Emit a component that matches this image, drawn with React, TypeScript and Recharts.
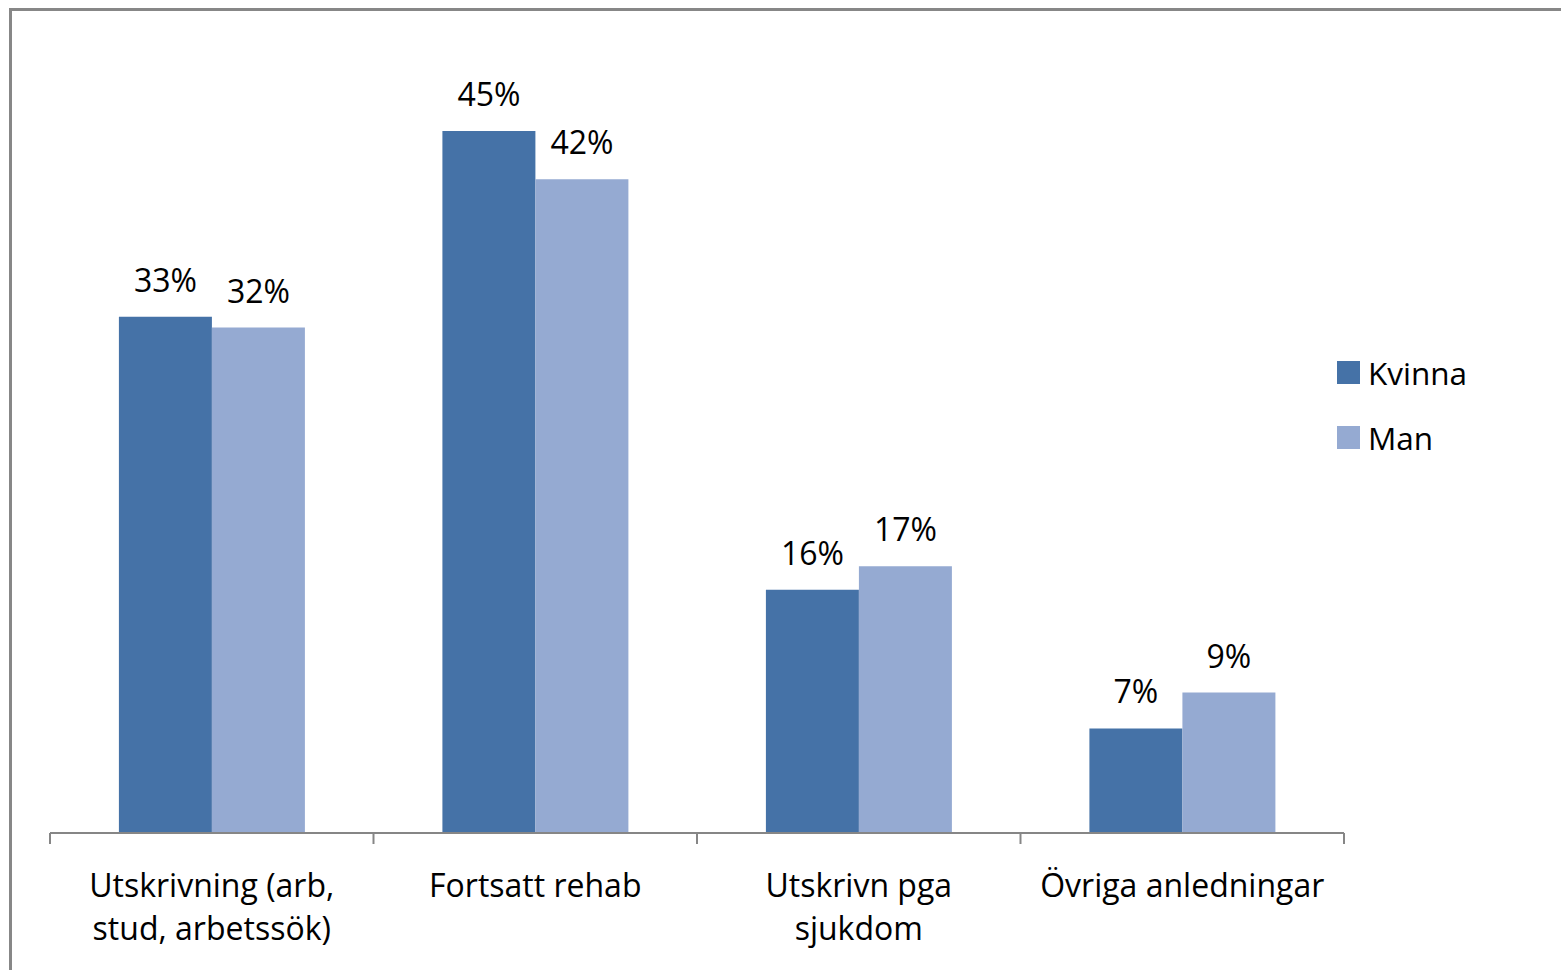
import { BarChart, Bar, XAxis, YAxis, Legend, LabelList } from 'recharts'

const categories = [
  'Utskrivning (arb,\nstud, arbetssök)',
  'Fortsatt rehab',
  'Utskrivn pga\nsjukdom',
  'Övriga anledningar',
]
const kvinna = [33.1, 45.0, 15.6, 6.7]
const man = [32.4, 41.9, 17.1, 9.0]

const seriesNames = ['Kvinna', 'Man']
const seriesColors = ['#4572A7', '#95AAD2']

const data = categories.map((c, i) => ({ category: c, Kvinna: kvinna[i], Man: man[i] }))

const FONT = '"Open Sans", sans-serif'
const W = 1561
const H = 970
const PLOT_LEFT = 50
const PLOT_RIGHT = 1344
const BAND = (PLOT_RIGHT - PLOT_LEFT) / categories.length

function CategoryTick(props: any) {
  const { x, y, payload, index } = props
  const lines = String(payload.value).split('\n')
  return (
    <g>
      <line x1={x - BAND / 2} y1={y} x2={x - BAND / 2} y2={y + 11} stroke="#868686" strokeWidth={2} />
      {index === categories.length - 1 && (
        <line x1={x + BAND / 2} y1={y} x2={x + BAND / 2} y2={y + 11} stroke="#868686" strokeWidth={2} />
      )}
      {lines.map((l, i) => (
        <text key={i} x={x} y={y + 64 + i * 43} textAnchor="middle" fontSize={32} fontFamily={FONT} fill="#000">
          {l}
        </text>
      ))}
    </g>
  )
}

function LegendBox() {
  return (
    <div style={{ width: 200, fontFamily: FONT, fontSize: 31.5, color: '#000', whiteSpace: 'nowrap' }}>
      {seriesNames.map((n, i) => (
        <div key={n} style={{ display: 'flex', alignItems: 'center', height: 23, marginBottom: 42 }}>
          <div style={{ width: 23, height: 23, flexShrink: 0, background: seriesColors[i], marginRight: 8 }} />
          <span style={{ lineHeight: '23px' }}>{n}</span>
        </div>
      ))}
    </div>
  )
}

export default function App() {
  return (
    <div style={{ position: 'absolute', left: 0, top: 0, width: W, height: H, overflow: 'hidden', background: '#fff' }}>
      <div
        style={{
          position: 'absolute',
          left: 9,
          top: 8,
          width: W + 20,
          height: H + 20,
          borderLeft: '3px solid #878787',
          borderTop: '3px solid #878787',
        }}
      />
      <div style={{ position: 'absolute', left: 0, top: 0 }}>
        <BarChart
          width={W}
          height={H}
          data={data}
          margin={{ top: 53, right: W - PLOT_RIGHT, left: PLOT_LEFT, bottom: 0 }}
          barCategoryGap="21.3%"
          barGap={0}
        >
          <XAxis
            dataKey="category"
            height={H - 833}
            axisLine={{ stroke: '#868686', strokeWidth: 2 }}
            tickLine={false}
            tickSize={0}
            tickMargin={0}
            interval={0}
            tick={<CategoryTick />}
          />
          <YAxis hide domain={[0, 50]} />
          <Legend
            layout="horizontal"
            verticalAlign="middle"
            align="right"
            content={<LegendBox />}
            wrapperStyle={{
              left: 1337,
              top: 361,
              right: 'auto',
              bottom: 'auto',
              width: 0,
              height: 0,
              overflow: 'visible',
            }}
          />
          {seriesNames.map((n, i) => (
            <Bar key={n} dataKey={n} fill={seriesColors[i]} isAnimationActive={false}>
              <LabelList
                dataKey={n}
                position="top"
                offset={25}
                formatter={(v: any) => `${Math.round(Number(v))}%`}
                fontSize={32}
                fontFamily={FONT}
                fill="#000"
              />
            </Bar>
          ))}
        </BarChart>
      </div>
    </div>
  )
}
